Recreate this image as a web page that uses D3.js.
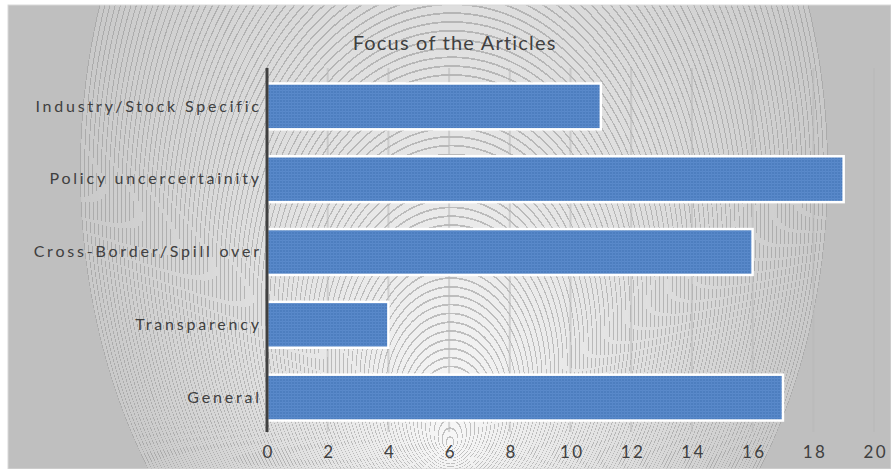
<!DOCTYPE html>
<html>
<head>
<meta charset="utf-8">
<script src="https://cdn.jsdelivr.net/npm/d3@7"></script>
<style>
  html, body { margin: 0; padding: 0; background: #ffffff; }
  svg { display: block; }
  text { font-family: Lato, "Open Sans", sans-serif; fill: #404040; }
</style>
</head>
<body>
<svg id="chart" width="891" height="469"></svg>
<script>
// Article counts per focus area, listed top to bottom
const categories = ["Industry/Stock Specific", "Policy uncercertainity", "Cross-Border/Spill over", "Transparency", "General"];
const counts = [11, 19, 16, 4, 17];
const xTicks = [0, 2, 4, 6, 8, 10, 12, 14, 16, 18, 20];
const chartTitle = "Focus of the Articles";

const width = 891, height = 469;
const svg = d3.select("#chart");
const defs = svg.append("defs");

// Background: elliptical radial gradient with a low focal point and faint concentric rings
const bgCx = 454, bgCy = 170, bgR = 374, bgSy = 1.39;
const bg = defs.append("radialGradient")
  .attr("id", "bgGrad")
  .attr("gradientUnits", "userSpaceOnUse")
  .attr("cx", bgCx).attr("cy", bgCy).attr("r", bgR)
  .attr("fx", 450).attr("fy", bgCy + (445 - bgCy) / bgSy)
  .attr("gradientTransform", `translate(${bgCx},${bgCy}) scale(1,${bgSy}) translate(${-bgCx},${-bgCy})`);
const shade = d3.interpolateRgb("#f7f7f7", "#c9c9c9");
const rings = 90;
for (let k = 0; k < rings; k++) {
  const t0 = k / rings, t1 = (k + 1) / rings;
  const tl = t1 - 0.0022;
  bg.append("stop").attr("offset", t0).attr("stop-color", shade(t0));
  bg.append("stop").attr("offset", tl).attr("stop-color", shade(tl));
  const lineCol = d3.interpolateRgb(shade(tl), "#8c8c8c")(0.5);
  bg.append("stop").attr("offset", tl).attr("stop-color", lineCol);
  bg.append("stop").attr("offset", t1).attr("stop-color", lineCol);
}
bg.append("stop").attr("offset", 1).attr("stop-color", "#bfbfbf");

// Fine woven texture for the bars
const pat = defs.append("pattern")
  .attr("id", "barTex").attr("patternUnits", "userSpaceOnUse")
  .attr("width", 3).attr("height", 3);
pat.append("rect").attr("width", 3).attr("height", 3).attr("fill", "#4d7ebf");
pat.append("rect").attr("width", 3).attr("height", 1).attr("fill", "#5a8acb");
pat.append("rect").attr("width", 1).attr("height", 3).attr("fill", "#5787c8");

// Chart area
svg.append("rect").attr("x", 8).attr("y", 5)
  .attr("width", width - 8).attr("height", height - 5)
  .attr("fill", "url(#bgGrad)")
  .attr("stroke", "#d9d9d9").attr("stroke-width", 1);

const plot = { left: 267, right: 874, top: 68, bottom: 432 };

const x = d3.scaleLinear().domain([0, 20]).range([plot.left, plot.right]);
const y = d3.scaleBand().domain(categories).range([plot.top + 2, plot.bottom + 2]).paddingInner(0.37).paddingOuter(0.185);

// Vertical gridlines
svg.append("g").selectAll("line").data(xTicks.slice(1)).join("line")
  .attr("x1", d => x(d)).attr("x2", d => x(d))
  .attr("y1", plot.top).attr("y2", plot.bottom)
  .attr("stroke", "#b8b8b8").attr("stroke-opacity", 0.55).attr("stroke-width", 2);

// Bars
svg.append("g").selectAll("rect").data(categories).join("rect")
  .attr("x", x(0))
  .attr("y", d => y(d))
  .attr("width", (d, i) => x(counts[i]) - x(0))
  .attr("height", y.bandwidth())
  .attr("fill", "url(#barTex)")
  .attr("stroke", "#ffffff").attr("stroke-width", 2.5);

// Category axis
const labelSpacing = 2.8;
const yAxis = svg.append("g").attr("transform", `translate(${plot.left},0)`)
  .call(d3.axisLeft(y).tickSize(0).tickPadding(8 - labelSpacing));
yAxis.select(".domain").remove();
yAxis.selectAll("text")
  .style("font-size", "16px")
  .style("letter-spacing", labelSpacing + "px")
  .attr("fill", "#404040");
svg.append("line")
  .attr("x1", plot.left).attr("x2", plot.left)
  .attr("y1", plot.top).attr("y2", plot.bottom)
  .attr("stroke", "#404040").attr("stroke-width", 3);

// Value axis labels
const tickSpacing = 2.4;
const xAxis = svg.append("g").attr("transform", `translate(${tickSpacing / 2},${plot.bottom})`)
  .call(d3.axisBottom(x).tickValues(xTicks).tickSize(0).tickPadding(14));
xAxis.select(".domain").remove();
xAxis.selectAll("text")
  .style("font-size", "17px")
  .style("letter-spacing", tickSpacing + "px")
  .attr("fill", "#404040");

// Title
const titleSpacing = 1.2;
svg.append("text")
  .attr("x", 454 + titleSpacing / 2).attr("y", 50)
  .attr("text-anchor", "middle")
  .style("font-size", "20px")
  .style("letter-spacing", titleSpacing + "px")
  .text(chartTitle);
</script>
</body>
</html>
